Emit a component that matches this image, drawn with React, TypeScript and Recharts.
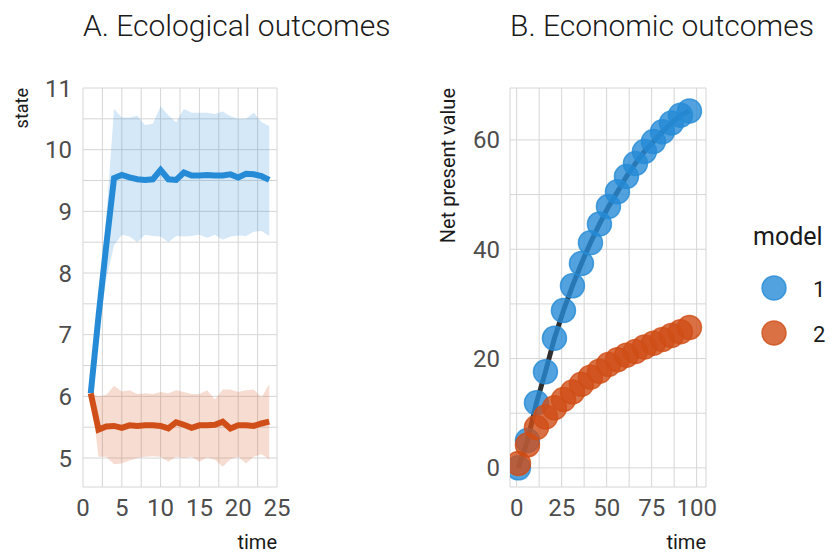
import { ComposedChart, Line, Area, XAxis, YAxis, CartesianGrid } from 'recharts'

// A. ecological outcomes: mean state with a band, per model
const ecoTime = [1, 2, 3, 4, 5, 6, 7, 8, 9, 10, 11, 12, 13, 14, 15, 16, 17, 18, 19, 20, 21, 22, 23, 24]
const model1State = [6.05, 7.3, 8.45, 9.54, 9.59, 9.55, 9.52, 9.51, 9.52, 9.67, 9.52, 9.51, 9.63, 9.58, 9.58, 9.59, 9.58, 9.58, 9.6, 9.55, 9.61, 9.6, 9.57, 9.51]
const model1Upper = [6.1, 7.5, 8.9, 10.66, 10.52, 10.52, 10.55, 10.4, 10.42, 10.7, 10.56, 10.44, 10.66, 10.6, 10.6, 10.6, 10.58, 10.62, 10.54, 10.5, 10.5, 10.6, 10.45, 10.38]
const model1Lower = [6.0, 7.0, 7.9, 8.45, 8.62, 8.59, 8.5, 8.62, 8.6, 8.59, 8.5, 8.6, 8.59, 8.6, 8.62, 8.57, 8.62, 8.54, 8.59, 8.61, 8.6, 8.67, 8.68, 8.6]
const model2State = [6.05, 5.46, 5.51, 5.52, 5.49, 5.53, 5.52, 5.53, 5.53, 5.52, 5.48, 5.58, 5.54, 5.49, 5.53, 5.53, 5.54, 5.59, 5.48, 5.53, 5.53, 5.52, 5.56, 5.59]
const model2Upper = [6.05, 6.0, 6.02, 6.17, 6.08, 6.1, 6.04, 6.05, 6.04, 6.07, 6.05, 6.1, 6.07, 6.04, 6.04, 6.1, 5.95, 6.11, 6.11, 6.07, 6.1, 6.11, 5.98, 6.2]
const model2Lower = [6.05, 5.02, 5.02, 4.9, 4.91, 4.96, 5.0, 5.02, 5.03, 5.02, 4.94, 5.02, 5.0, 5.02, 4.94, 5.01, 4.97, 4.86, 4.98, 5.02, 4.91, 5.02, 5.06, 4.98]

// B. economic outcomes: net present value per model
const npvTime = [1, 6, 11, 16, 21, 26, 31, 36, 41, 46, 51, 56, 61, 66, 71, 76, 81, 86, 91, 96]
const model1Npv = [0, 5.0, 11.9, 17.6, 23.7, 28.8, 33.3, 37.4, 41.2, 44.6, 47.8, 50.5, 53.3, 55.7, 57.9, 59.7, 61.5, 63.1, 64.5, 65.3]
const model2Npv = [0.8, 4.2, 7.4, 9.3, 11.0, 12.5, 13.9, 15.3, 16.6, 17.7, 18.9, 19.8, 20.6, 21.3, 22.1, 22.8, 23.5, 24.2, 24.9, 25.7]

const ecoTicksX = [0, 2.5, 5, 7.5, 10, 12.5, 15, 17.5, 20, 22.5, 25]
const ecoTicksY = [5, 5.5, 6, 6.5, 7, 7.5, 8, 8.5, 9, 9.5, 10, 10.5, 11]
const econTicksX = [0, 12.5, 25, 37.5, 50, 62.5, 75, 87.5, 100]
const econTicksY = [0, 10, 20, 30, 40, 50, 60]

const BLUE = '#268bd6'
const RED = '#d04e17'
const GRID = '#d6d6d6'
const FONT = 'Roboto, "Noto Sans", sans-serif'
const tickStyle = { fill: '#4d4d4d', fontSize: 24, fontFamily: FONT }

const ecoData = ecoTime.map((t, i) => ({
  t,
  m1: model1State[i],
  m2: model2State[i],
  band1: [model1Lower[i], model1Upper[i]],
  band2: [model2Lower[i], model2Upper[i]],
}))

const econData = npvTime.map((t, i) => ({ t, m1: model1Npv[i], m2: model2Npv[i] }))

const dot = (color: string) => ({
  r: 12,
  fill: color,
  fillOpacity: 0.8,
  stroke: color,
  strokeOpacity: 0.8,
  strokeWidth: 1.5,
})

export default function App() {
  return (
    <div style={{ position: 'absolute', left: 0, top: 0, width: 835, height: 558, background: '#fff', fontFamily: FONT }}>
      <div style={{ position: 'absolute', left: 0, top: 0 }}>
        <ComposedChart width={290} height={558} data={ecoData} margin={{ top: 88, right: 13, bottom: 31, left: 0 }}>
          <CartesianGrid stroke={GRID} strokeWidth={1} />
          <XAxis
            dataKey="t"
            type="number"
            domain={[0, 25]}
            ticks={ecoTicksX}
            interval={0}
            allowDataOverflow
            axisLine={false}
            tickLine={false}
            tickSize={6}
            tickMargin={6}
            height={40}
            tick={tickStyle}
            tickFormatter={(v: number) => (v % 5 === 0 ? String(v) : '')}
          />
          <YAxis
            type="number"
            domain={[4.53, 11]}
            ticks={ecoTicksY}
            interval={0}
            allowDataOverflow
            axisLine={false}
            tickLine={false}
            tickSize={6}
            tickMargin={5}
            width={83}
            tick={tickStyle}
            tickFormatter={(v: number) => (v % 1 === 0 ? String(v) : '')}
          />
          <Area dataKey="band1" type="linear" stroke="none" fill={BLUE} fillOpacity={0.2} isAnimationActive={false} />
          <Area dataKey="band2" type="linear" stroke="none" fill={RED} fillOpacity={0.2} isAnimationActive={false} />
          <Line dataKey="m1" type="linear" stroke={BLUE} strokeWidth={6} dot={false} isAnimationActive={false} />
          <Line dataKey="m2" type="linear" stroke={RED} strokeWidth={6} dot={false} isAnimationActive={false} />
        </ComposedChart>
      </div>

      <div style={{ position: 'absolute', left: 420, top: 0 }}>
        <ComposedChart width={300} height={558} data={econData} margin={{ top: 88, right: 14, bottom: 31, left: 0 }}>
          <CartesianGrid stroke={GRID} strokeWidth={1} />
          <XAxis
            dataKey="t"
            type="number"
            domain={[-3.7, 105.2]}
            ticks={econTicksX}
            interval={0}
            allowDataOverflow
            axisLine={false}
            tickLine={false}
            tickSize={6}
            tickMargin={6}
            height={40}
            tick={tickStyle}
            tickFormatter={(v: number) => (v % 25 === 0 ? String(v) : '')}
          />
          <YAxis
            type="number"
            domain={[-3.5, 69.5]}
            ticks={econTicksY}
            interval={0}
            allowDataOverflow
            axisLine={false}
            tickLine={false}
            tickSize={6}
            tickMargin={4}
            width={90}
            tick={tickStyle}
            tickFormatter={(v: number) => (v % 20 === 0 ? String(v) : '')}
          />
          <Line dataKey="m1" type="linear" stroke="#303030" strokeWidth={5} dot={false} isAnimationActive={false} />
          <Line dataKey="m1" type="linear" stroke="none" strokeWidth={0} dot={dot(BLUE)} isAnimationActive={false} />
          <Line dataKey="m2" type="linear" stroke="none" strokeWidth={0} dot={dot(RED)} isAnimationActive={false} />
        </ComposedChart>
      </div>

      <svg width={835} height={558} style={{ position: 'absolute', left: 0, top: 0, pointerEvents: 'none' }}>
        <g fontFamily={FONT} fill="#1a1a1a">
          <text x={83} y={36} fontSize={30} fontWeight={300}>A. Ecological outcomes</text>
          <text x={510} y={36} fontSize={30} fontWeight={300}>B. Economic outcomes</text>
          <text x={277} y={549} fontSize={20} textAnchor="end">time</text>
          <text x={706} y={549} fontSize={20} textAnchor="end">time</text>
          <text transform="translate(28,88) rotate(-90)" fontSize={18} textAnchor="end">state</text>
          <text transform="translate(455,88) rotate(-90)" fontSize={20} textAnchor="end">Net present value</text>
          <text x={753} y={245} fontSize={25}>model</text>
          <circle cx={774} cy={288} r={12} fill={BLUE} fillOpacity={0.8} stroke={BLUE} strokeOpacity={0.8} strokeWidth={1.5} />
          <circle cx={774} cy={333} r={12} fill={RED} fillOpacity={0.8} stroke={RED} strokeOpacity={0.8} strokeWidth={1.5} />
          <text x={813} y={297} fontSize={22}>1</text>
          <text x={813} y={342} fontSize={22}>2</text>
        </g>
      </svg>
    </div>
  )
}
